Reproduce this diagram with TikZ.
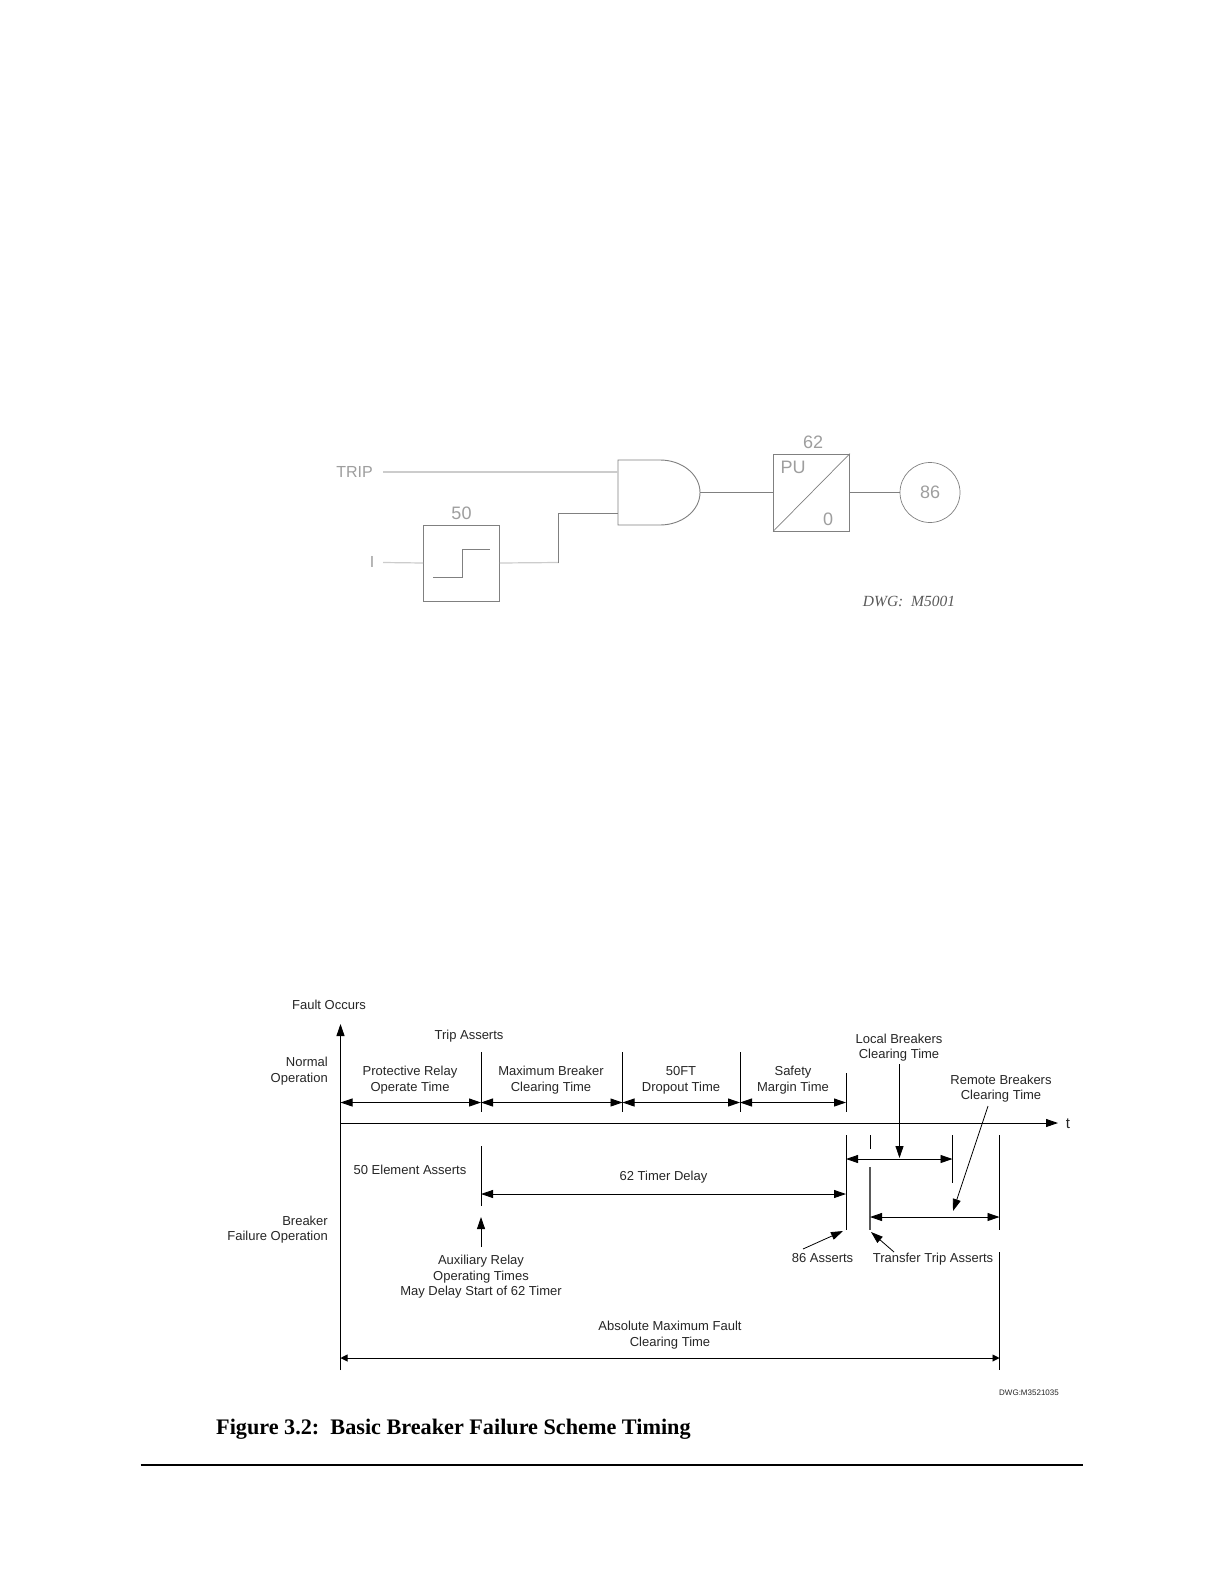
\documentclass[tikz,border=0pt]{standalone}
\usepackage{fontspec}
\setmainfont{Liberation Sans}
\newfontfamily\serifcap{Liberation Serif}
\usetikzlibrary{arrows.meta,calc}
\definecolor{softline}{gray}{0.80}
\definecolor{midline}{gray}{0.50}
\definecolor{softtext}{gray}{0.62}
\tikzset{
  lbl/.style={inner sep=0pt,align=center,font=\fontsize{13}{15.5}\selectfont,text=black!85},
  lblr/.style={inner sep=0pt,align=right,anchor=east,font=\fontsize{13}{15.5}\selectfont,text=black!85},
  glbl/.style={inner sep=0pt,font=\fontsize{18}{20}\selectfont,text=softtext},
  blockbox/.style={draw=midline,line width=0.8pt,minimum width=76pt,minimum height=76pt,inner sep=0pt},
  relay/.style={draw=midline,line width=0.7pt,circle,minimum size=60pt,inner sep=0pt},
  wire/.style={draw=midline,line width=0.9pt},
  softwire/.style={draw=softline,line width=1.2pt},
  tickline/.style={draw=black,line width=0.8pt},
  span/.style={draw=black,line width=0.9pt,{Triangle[length=12pt,width=8pt]}-{Triangle[length=12pt,width=8pt]}},
  pointer/.style={draw=black,line width=0.8pt,-{Triangle[length=12pt,width=8pt]}}
}
\begin{document}
\begin{tikzpicture}[x=1pt,y=-1pt]
\useasboundingbox (0,0) rectangle (1224,1584);
\fill[white] (0,0) rectangle (1224,1584);

% ---------- upper logic diagram ----------
\node[glbl,font=\fontsize{16}{18}\selectfont] (trip) at (354.5,472) {TRIP};
\node[glbl,font=\fontsize{16}{18}\selectfont] (curr) at (372,562) {I};
\coordinate (tripstart) at (383,472);
\coordinate (currstart) at (383,562.5);
\node[blockbox] (b50) at (461.5,563) {};
\node[glbl] (t50) at (461.5,513) {50};
\draw[draw=midline,line width=0.8pt] (433,577) -- (462,577) -- (462,549) -- (490,549);
\coordinate (andA) at (618,472);
\coordinate (andB) at (618,513);
\coordinate (andO) at (700,492.5);
\draw[wire] (618,460) -- (618,525) -- (660,525) .. controls (682,525) and (700,510.5) .. (andO) .. controls (700,474.5) and (682,460) .. (660,460) -- cycle;
\node[blockbox,minimum height=77pt] (b62) at (811.5,492.5) {};
\draw[draw=midline,line width=0.7pt] (b62.south west) -- (b62.north east);
\node[glbl] (t62) at (813,442) {62};
\node[glbl] (pu) at (793,467) {PU};
\node[glbl] (zero) at (828,519) {0};
\node[relay] (r86) at (930,492.5) {};
\node[glbl] (t86) at (930,492) {86};
\node[inner sep=0pt,font=\serifcap\itshape\fontsize{15.5}{17}\selectfont,text=black!65] (dwg1) at (909,601.5) {DWG:\ \ M5001};
\draw[softwire] (tripstart) -- (andA);
\draw[softwire] (currstart) -- (b50.west);
\draw[softwire] (b50.east) -- (558.5,562.5);
\draw[wire] (558.5,563) -- (558.5,513) -- (andB);
\draw[wire] (andO) -- (b62.west);
\draw[wire] (b62.east) -- (r86.west);

% ---------- timing diagram: coordinates ----------
\coordinate (org) at (340.5,1123);
\coordinate (vtop) at (340.5,1024);
\coordinate (vbot) at (340.5,1370);
\coordinate (hend) at (1058,1123);

\coordinate (a1) at (481,1052); \coordinate (a2) at (481,1112);
\coordinate (b1) at (622.5,1052); \coordinate (b2) at (622.5,1112);
\coordinate (c1) at (740,1052); \coordinate (c2) at (740,1112);
\coordinate (d1) at (846,1073); \coordinate (d2) at (846,1112);
\coordinate (e1) at (481,1146); \coordinate (e2) at (481,1206);
\coordinate (f1) at (846,1135); \coordinate (f2) at (846,1230);
\coordinate (g1) at (870,1135); \coordinate (g2) at (870,1149);
\coordinate (h1) at (870,1167); \coordinate (h2) at (870,1230);
\coordinate (i1) at (952.5,1135); \coordinate (i2) at (952.5,1183);
\coordinate (j1) at (999.5,1135); \coordinate (j2) at (999.5,1230);
\coordinate (k1) at (999.5,1252); \coordinate (k2) at (999.5,1370);

\draw[pointer,line width=0.9pt] (vbot) -- (vtop);
\draw[pointer,line width=0.9pt] (org) -- (hend);
\foreach \p in {a,b,c,d,e,f,g,i,j,k}{\draw[tickline] (\p1) -- (\p2);}
\draw[draw=black!65,line width=1.1pt] (h1) -- (h2);

% spans
\draw[span] (340.5,1102.5) -- (481,1102.5);
\draw[span] (481,1102.5) -- (622.5,1102.5);
\draw[span] (622.5,1102.5) -- (740,1102.5);
\draw[span] (740,1102.5) -- (846,1102.5);
\draw[span] (481,1194) -- (846,1194);
\draw[span] (846,1159) -- (952.5,1159);
\draw[span] (870,1217) -- (999.5,1217);
\draw[span,{Triangle[length=7pt,width=7pt]}-{Triangle[length=7pt,width=7pt]}] (340.5,1358) -- (999.5,1358);

% labels
\node[lbl] (fault) at (329,1005) {Fault Occurs};
\node[lbl] (tripas) at (469,1036) {Trip Asserts};
\node[lblr] (normal) at (328,1071) {Normal\\Operation};
\node[lbl] (prot) at (410,1080) {Protective Relay\\Operate Time};
\node[lbl] (maxb) at (551,1080) {Maximum Breaker\\Clearing Time};
\node[lbl] (ft) at (681,1080.5) {50FT\\Dropout Time};
\node[lbl] (safety) at (793,1080) {Safety\\Margin Time};
\node[lbl] (local) at (899,1047.5) {Local Breakers\\Clearing Time};
\node[lbl] (remote) at (1001,1088.5) {Remote Breakers\\Clearing Time};
\node[lbl,font=\fontsize{15}{17}\selectfont] (tlab) at (1068,1123.5) {t};
\node[lbl] (el50) at (410,1170) {50 Element Asserts};
\node[lbl] (t62d) at (663.5,1177) {62 Timer Delay};
\node[lblr] (bfo) at (328,1229.5) {Breaker\\Failure Operation};
\node[lbl] (aux) at (481,1277) {Auxiliary Relay\\Operating Times\\May Delay Start of 62 Timer};
\node[lbl] (as86) at (822.5,1258) {86 Asserts};
\node[lbl] (ttas) at (933,1259) {Transfer Trip Asserts};
\node[lbl] (absm) at (670,1335) {Absolute Maximum Fault\\Clearing Time};
\node[lbl,font=\fontsize{8}{10}\selectfont] (dwg2) at (1029,1393) {DWG:M3521035};

% pointers
\coordinate (auxtop) at (481,1247); \coordinate (auxtip) at (481,1217);
\draw[pointer] (auxtop) -- (auxtip);
\coordinate (loctop) at (899.5,1064); \coordinate (loctip) at (899.5,1158);
\draw[pointer] (loctop) -- (loctip);
\coordinate (remtop) at (988,1106); \coordinate (remtip) at (953,1211);
\draw[pointer] (remtop) -- (remtip);
\coordinate (as86s) at (803,1249); \coordinate (as86t) at (843,1231);
\draw[pointer] (as86s) -- (as86t);
\coordinate (tts) at (894,1252); \coordinate (ttt) at (871,1232);
\draw[pointer] (tts) -- (ttt);

% caption and rule
\node[inner sep=0pt,anchor=west,font=\serifcap\bfseries\fontsize{22.2}{24}\selectfont] (cap) at (216,1429) {Figure 3.2:\ \ Basic Breaker Failure Scheme Timing};
\coordinate (ruleL) at (140.5,1465); \coordinate (ruleR) at (1083,1465);
\draw[black,line width=1.2pt] (ruleL) -- (ruleR);
\end{tikzpicture}
\end{document}
